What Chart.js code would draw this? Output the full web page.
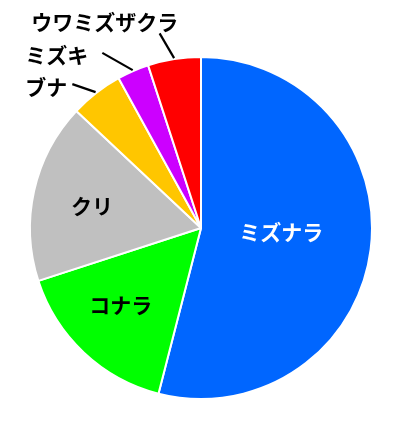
<!DOCTYPE html>
<html>
<head>
<meta charset="utf-8">
<script src="https://cdn.jsdelivr.net/npm/chart.js@4"></script>
<style>
  html, body { margin: 0; padding: 0; background: #fff; }
  #wrap { width: 400px; height: 423px; }
</style>
</head>
<body>
<div id="wrap"><canvas id="pieChart"></canvas></div>
<script>
// Data
const labels = ['ミズナラ', 'コナラ', 'クリ', 'ブナ', 'ミズキ', 'ウワミズザクラ'];
const values = [54, 16, 17, 5, 3, 5];
const colors = ['#0066FF', '#00FF00', '#C0C0C0', '#FFC600', '#CC00FF', '#FF0000'];

// How each label is drawn: inside the slice, or outside with a leader line
const labelStyle = [
    { inside: true, r: 0.47, turn: -4, color: '#fff' },
    { inside: true, r: 0.65, turn: 3, color: '#000' },
    { inside: true, r: 0.65, turn: -1, color: '#000' },
    { inside: false, turn: -4, len: 22, align: 'right', dx: -5, dy: 3 },
    { inside: false, turn: -6, len: 30, align: 'right', dx: -14, dy: 2 },
    { inside: false, turn: -3, len: 28, align: 'center', dx: -55, dy: -11 },
];

const FONT = 'bold 21px "Noto Sans CJK JP", "Noto Sans", sans-serif';

const sliceLabels = {
    id: 'sliceLabels',
    afterDatasetsDraw(chart) {
        const ctx = chart.ctx;
        const arcs = chart.getDatasetMeta(0).data;
        ctx.save();
        ctx.font = FONT;
        ctx.textBaseline = 'middle';
        arcs.forEach((arc, i) => {
            const st = labelStyle[i];
            const { x, y, startAngle, endAngle, outerRadius } = arc.getProps(
                ['x', 'y', 'startAngle', 'endAngle', 'outerRadius'], true);
            const a0 = (startAngle + endAngle) / 2;
            const mid = a0 + st.turn * Math.PI / 180;
            if (st.inside) {
                const r = outerRadius * st.r;
                ctx.fillStyle = st.color;
                ctx.textAlign = 'center';
                ctx.fillText(labels[i], x + Math.cos(mid) * r, y + Math.sin(mid) * r);
            } else {
                const sx = x + Math.cos(a0) * (outerRadius + 1);
                const sy = y + Math.sin(a0) * (outerRadius + 1);
                const ex = x + Math.cos(mid) * (outerRadius + st.len);
                const ey = y + Math.sin(mid) * (outerRadius + st.len);
                ctx.strokeStyle = '#000';
                ctx.lineWidth = 2.2;
                ctx.beginPath();
                ctx.moveTo(sx, sy);
                ctx.lineTo(ex, ey);
                ctx.stroke();
                ctx.fillStyle = '#000';
                ctx.textAlign = st.align;
                ctx.fillText(labels[i], ex + st.dx, ey + st.dy);
            }
        });
        ctx.restore();
    }
};

const pieChartCtx = document.getElementById('pieChart').getContext('2d');
const pieChart = new Chart(pieChartCtx, {
    type: 'pie',
    data: {
        labels: labels,
        datasets: [{
            data: values,
            backgroundColor: colors,
            borderColor: '#fff',
            borderWidth: 2,
        }],
    },
    options: {
        responsive: true,
        maintainAspectRatio: false,
        animation: false,
        layout: { padding: { top: 56, bottom: 23, left: 29, right: 27 } },
        plugins: {
            legend: { display: false },
            tooltip: { enabled: false },
        },
    },
    plugins: [sliceLabels],
});
</script>
</body>
</html>
